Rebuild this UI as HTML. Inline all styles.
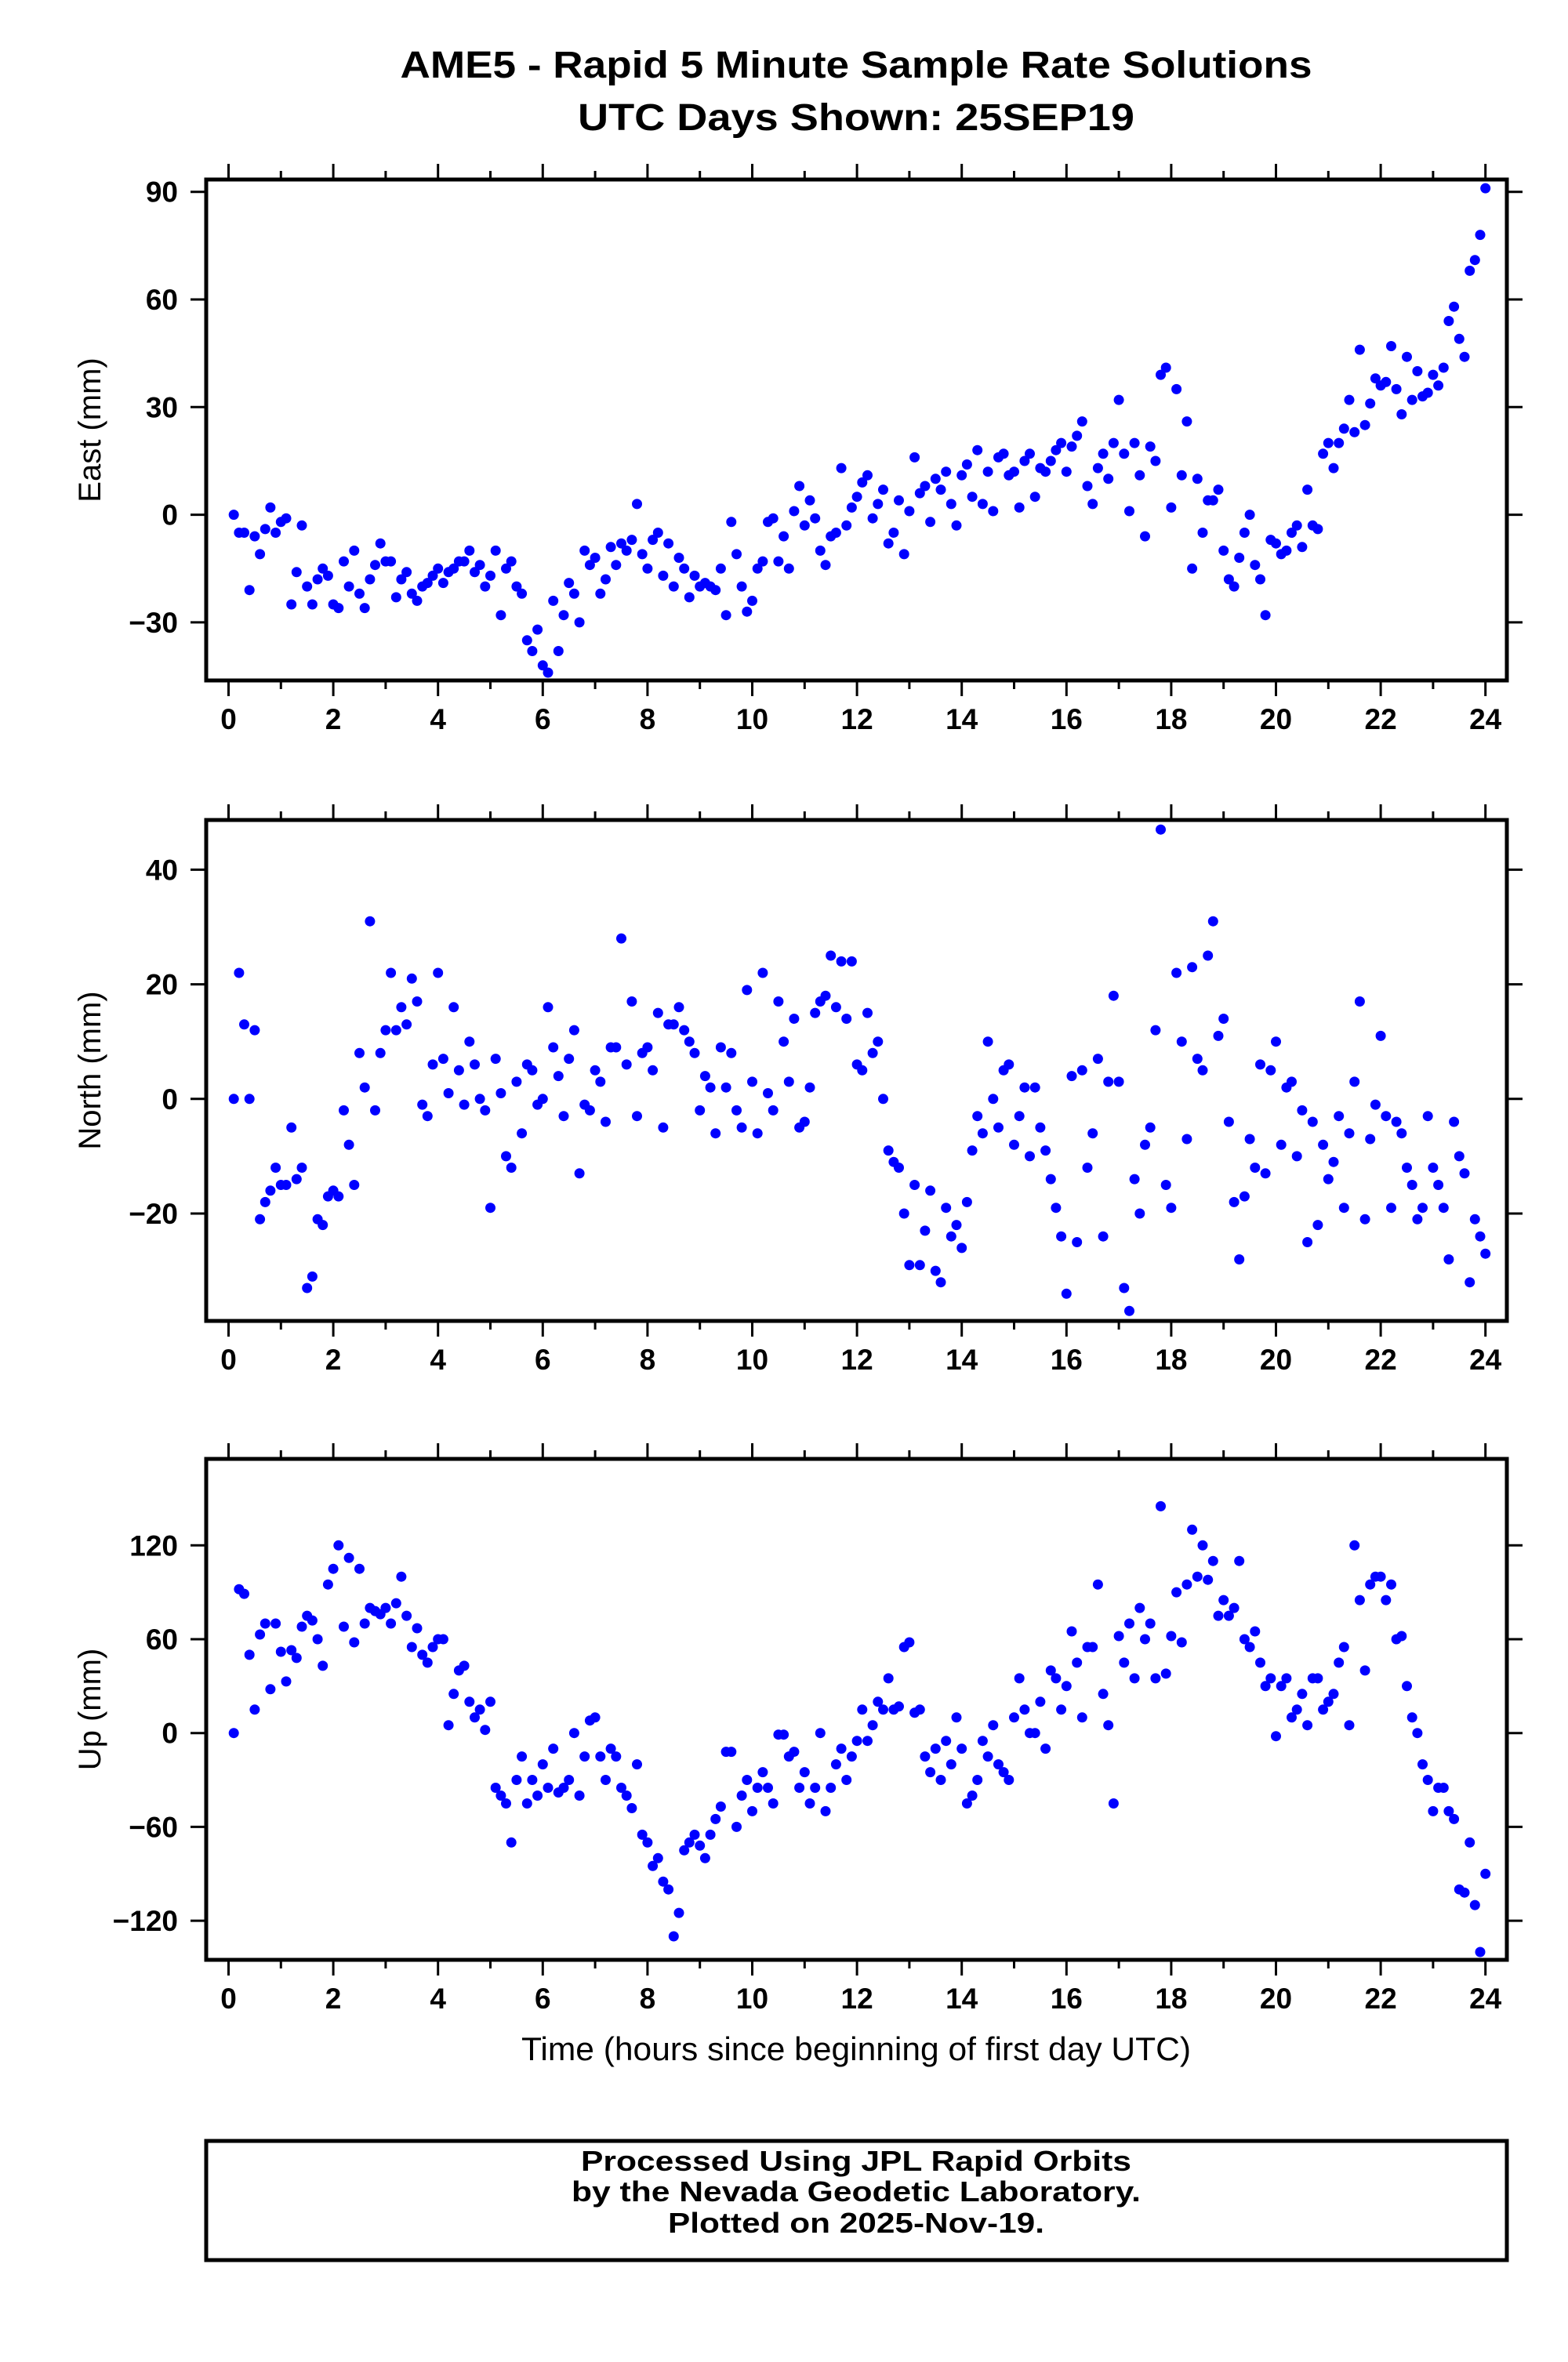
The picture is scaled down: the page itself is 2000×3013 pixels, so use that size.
<!DOCTYPE html>
<html><head><meta charset="utf-8">
<style>
html,body{margin:0;padding:0;background:#fff;}
svg{display:block;font-family:"Liberation Sans",Arial,sans-serif;}
</style></head>
<body>
<svg id="chart" width="2000" height="3013" viewBox="0 0 2000 3013" xmlns="http://www.w3.org/2000/svg">
<rect x="0" y="0" width="2000" height="3013" fill="#fff"/>
<text x="1092" y="99" text-anchor="middle" font-size="48" font-weight="bold" textLength="1163" lengthAdjust="spacingAndGlyphs">AME5 - Rapid 5 Minute Sample Rate Solutions</text>
<text x="1092" y="166" text-anchor="middle" font-size="48" font-weight="bold" textLength="710" lengthAdjust="spacingAndGlyphs">UTC Days Shown:  25SEP19</text>
<text x="1092" y="2628" text-anchor="middle" font-size="42" textLength="854" lengthAdjust="spacingAndGlyphs">Time (hours since beginning of first day UTC)</text>
<rect x="263" y="2731" width="1659" height="152" fill="none" stroke="#000" stroke-width="5"/>
<text x="1092" y="2769" text-anchor="middle" font-size="36" font-weight="bold" textLength="702" lengthAdjust="spacingAndGlyphs">Processed Using JPL Rapid Orbits</text>
<text x="1092" y="2808" text-anchor="middle" font-size="36" font-weight="bold" textLength="726" lengthAdjust="spacingAndGlyphs">by the Nevada Geodetic Laboratory.</text>
<text x="1092" y="2848" text-anchor="middle" font-size="36" font-weight="bold" textLength="480" lengthAdjust="spacingAndGlyphs">Plotted on 2025-Nov-19.</text>
</svg>
<script>
const xTicks = [0,2,4,6,8,10,12,14,16,18,20,22,24];
const eastTicks = [-30,0,30,60,90];
const northTicks = [-20,0,20,40];
const upTicks = [-120,-60,0,60,120];
const eastValues = [
0,-5,-5,-21,-6,-11,-4,2,-5,-2,
-1,-25,-16,-3,-20,-25,-18,-15,-17,-25,
-26,-13,-20,-10,-22,-26,-18,-14,-8,-13,
-13,-23,-18,-16,-22,-24,-20,-19,-17,-15,
-19,-16,-15,-13,-13,-10,-16,-14,-20,-17,
-10,-28,-15,-13,-20,-22,-35,-38,-32,-42,
-44,-24,-38,-28,-19,-22,-30,-10,-14,-12,
-22,-18,-9,-14,-8,-10,-7,3,-11,-15,
-7,-5,-17,-8,-20,-12,-15,-23,-17,-20,
-19,-20,-21,-15,-28,-2,-11,-20,-27,-24,
-15,-13,-2,-1,-13,-6,-15,1,8,-3,
4,-1,-10,-14,-6,-5,13,-3,2,5,
9,11,-1,3,7,-8,-5,4,-11,1,
16,6,8,-2,10,7,12,3,-3,11,
14,5,18,3,12,1,16,17,11,12,
2,15,17,5,13,12,15,18,20,12,
19,22,26,8,3,13,17,10,20,32,
17,1,20,11,-6,19,15,39,41,2,
35,11,26,-15,10,-5,4,4,7,-10,
-18,-20,-12,-5,0,-14,-18,-28,-7,-8,
-11,-10,-5,-3,-9,7,-3,-4,17,20,
13,20,24,32,23,46,25,31,38,36,
37,47,35,28,44,32,40,33,34,39,
36,41,54,58,49,44,68,71,78,91];
const northValues = [
0,22,13,0,12,-21,-18,-16,-12,-15,
-15,-5,-14,-12,-33,-31,-21,-22,-17,-16,
-17,-2,-8,-15,8,2,31,-2,8,12,
22,12,16,13,21,17,-1,-3,6,22,
7,1,16,5,-1,10,6,0,-2,-19,
7,1,-10,-12,3,-6,6,5,-1,0,
16,9,4,-3,7,12,-13,-1,-2,5,
3,-4,9,9,28,6,17,-3,8,9,
5,15,-5,13,13,16,12,10,8,-2,
4,2,-6,9,2,8,-2,-5,19,3,
-6,22,1,-2,17,10,3,14,-5,-4,
2,15,17,18,25,16,24,14,24,6,
5,15,8,10,0,-9,-11,-12,-20,-29,
-15,-29,-23,-16,-30,-32,-19,-24,-22,-26,
-18,-9,-3,-6,10,0,-5,5,6,-8,
-3,2,-10,2,-5,-9,-14,-19,-24,-34,
4,-25,5,-12,-6,7,-24,3,18,3,
-33,-37,-14,-20,-8,-5,12,47,-15,-19,
22,10,-7,23,7,5,25,31,11,14,
-4,-18,-28,-17,-7,-12,6,-13,5,10,
-8,2,3,-10,-2,-25,-4,-22,-8,-14,
-11,-3,-19,-6,3,17,-21,-7,-1,11,
-3,-19,-4,-6,-12,-15,-21,-19,-3,-12,
-15,-19,-28,-4,-10,-13,-32,-21,-24,-27];
const upValues = [
0,92,89,50,15,63,70,28,70,52,
33,53,48,68,75,72,60,43,95,105,
120,68,112,58,105,70,80,78,76,80,
70,83,100,75,55,67,50,45,55,60,
60,5,25,40,43,20,10,15,2,20,
-35,-40,-45,-70,-30,-15,-45,-30,-40,-20,
-35,-10,-38,-35,-30,0,-40,-15,8,10,
-15,-30,-10,-15,-35,-40,-48,-20,-65,-70,
-85,-80,-95,-100,-130,-115,-75,-70,-65,-72,
-80,-65,-55,-47,-12,-12,-60,-40,-30,-50,
-35,-25,-35,-45,-1,-1,-15,-12,-35,-25,
-45,-35,0,-50,-35,-20,-10,-30,-15,-5,
15,-5,5,20,15,35,15,17,55,58,
13,15,-15,-25,-10,-30,-5,-20,10,-10,
-45,-40,-30,-5,-15,5,-20,-25,-30,10,
35,15,0,0,20,-10,40,35,15,30,
65,45,10,55,55,95,25,5,-45,62,
45,70,35,80,60,70,35,145,38,62,
90,58,95,130,100,120,98,110,75,85,
75,80,110,60,55,65,45,30,35,-2,
30,35,10,15,25,5,35,35,15,20,
25,45,55,5,120,85,40,95,100,100,
85,95,60,62,30,10,0,-20,-30,-50,
-35,-35,-50,-55,-100,-102,-70,-110,-140,-90];
const SAMPLE_STEP_HOURS = 0.1;

const NS = 'http://www.w3.org/2000/svg';
const svg = document.getElementById('chart');
const X0 = 291.5, XPH = 66.8, LEFT = 263, RIGHT = 1922;
function xScale(t){ return X0 + t * XPH; }
function mk(tag, attrs){ const e = document.createElementNS(NS, tag); for (const k in attrs) e.setAttribute(k, attrs[k]); svg.appendChild(e); return e; }

const panels = [
  {key:'east', title:'East (mm)', top:229, bottom:868, zeroY:656.6, pxPerUnit:137.3/30, ticks:eastTicks, values:eastValues},
  {key:'north', title:'North (mm)', top:1046, bottom:1685, zeroY:1401.8, pxPerUnit:146.2/20, ticks:northTicks, values:northValues},
  {key:'up', title:'Up (mm)', top:1861, bottom:2500, zeroY:2210.7, pxPerUnit:119.7/60, ticks:upTicks, values:upValues}
];

panels.forEach(p => {
  const yScale = v => p.zeroY - v * p.pxPerUnit;
  const g = document.createElementNS(NS, 'g');
  
  
  svg.appendChild(g);
  // points
  p.values.forEach((v, i) => {
    const t = (i + 1) * SAMPLE_STEP_HOURS;
    const y = yScale(v);
    if (y < p.top - 5 || y > p.bottom + 5) return;
    const c = document.createElementNS(NS, 'circle');
    c.setAttribute('cx', xScale(t).toFixed(1));
    c.setAttribute('cy', y.toFixed(1));
    c.setAttribute('r', 6.5);
    c.setAttribute('fill', '#0000ff');
    
    
    g.appendChild(c);
  });
  // frame
  const fr = mk('rect', {x:LEFT, y:p.top, width:RIGHT-LEFT, height:p.bottom-p.top, fill:'none', stroke:'#000', 'stroke-width':5});
  
  
  // x ticks
  for (let h = 0; h <= 24; h++) {
    const x = xScale(h);
    const len = (h % 2 === 0) ? 18 : 9;
    const tb = mk('line', {x1:x, x2:x, y1:p.bottom + 2, y2:p.bottom + 2 + len, stroke:'#000', 'stroke-width':3});
    
    
    const tt = mk('line', {x1:x, x2:x, y1:p.top - 2, y2:p.top - 2 - len, stroke:'#000', 'stroke-width':3});
    
    
  }
  xTicks.forEach(h => {
    const lab = mk('text', {x:xScale(h), y:p.bottom + 62, 'text-anchor':'middle', 'font-size':37, 'font-weight':'bold'});
    lab.textContent = String(h);
    
    
  });
  // y ticks
  p.ticks.forEach(v => {
    const y = yScale(v);
    const tl = mk('line', {x1:LEFT - 2, x2:LEFT - 20, y1:y, y2:y, stroke:'#000', 'stroke-width':3});
    
    
    const tr = mk('line', {x1:RIGHT + 2, x2:RIGHT + 20, y1:y, y2:y, stroke:'#000', 'stroke-width':3});
    
    
    const lab = mk('text', {x:227, y:y + 13, 'text-anchor':'end', 'font-size':37, 'font-weight':'bold'});
    lab.textContent = v < 0 ? '\u2212' + Math.abs(v) : String(v);
    
    
  });
  const cy = (p.top + p.bottom) / 2;
  const yt = mk('text', {x:0, y:0, 'text-anchor':'middle', 'font-size':40, transform:'translate(128,' + cy + ') rotate(-90)'});
  yt.textContent = p.title;
  
  
});
</script>
</body></html>
